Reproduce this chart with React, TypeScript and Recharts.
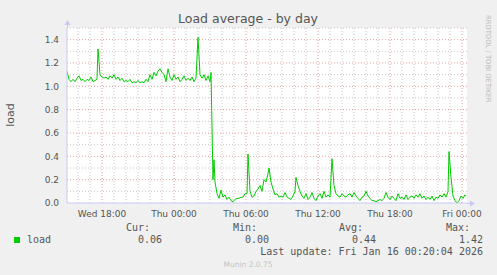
import React from 'react';
import { LineChart, Line, XAxis, YAxis, CartesianGrid, ReferenceLine } from 'recharts';

// minutes since Wed 00:00
const times = [
  905, 915, 925, 935, 945, 955, 965, 975, 985, 995, 1005, 1015, 1025, 1035, 1045, 1055, 1060, 1070,
  1080, 1090, 1100, 1110, 1120, 1130, 1140, 1150, 1160, 1170, 1180, 1190, 1200, 1210, 1220, 1230,
  1240, 1250, 1260, 1270, 1280, 1290, 1300, 1310, 1320, 1330, 1340, 1350, 1360, 1370, 1380, 1390,
  1400, 1410, 1420, 1430, 1440, 1450, 1460, 1470, 1480, 1490, 1500, 1510, 1520, 1530, 1540, 1550,
  1560, 1570, 1580, 1590, 1600, 1610, 1620, 1625, 1635, 1640, 1645, 1655, 1665, 1675, 1685, 1695,
  1705, 1715, 1725, 1735, 1745, 1755, 1765, 1775, 1785, 1795, 1805, 1810, 1820, 1830, 1840, 1850,
  1860, 1870, 1880, 1890, 1900, 1910, 1915, 1925, 1935, 1945, 1955, 1965, 1975, 1985, 1995, 2005,
  2015, 2025, 2035, 2045, 2050, 2060, 2070, 2080, 2090, 2100, 2110, 2120, 2130, 2140, 2150, 2160,
  2170, 2180, 2190, 2200, 2210, 2220, 2230, 2240, 2250, 2260, 2270, 2280, 2290, 2300, 2310, 2320,
  2330, 2340, 2350, 2360, 2370, 2380, 2390, 2400, 2410, 2420, 2430, 2440, 2450, 2460, 2470, 2480,
  2490, 2500, 2510, 2520, 2530, 2540, 2550, 2560, 2570, 2580, 2590, 2600, 2610, 2620, 2630, 2640,
  2650, 2660, 2670, 2680, 2690, 2700, 2710, 2720, 2730, 2740, 2750, 2760, 2770, 2780, 2790, 2800,
  2810, 2815, 2825, 2835, 2845, 2855, 2865, 2875, 2885, 2895, 2900,
];

const loads = [
  1.13, 1.06, 1.04, 1.06, 1.04, 1.07, 1.09, 1.05, 1.06, 1.04, 1.06, 1.05, 1.08, 1.04, 1.05, 1.06, 1.32, 1.10,
  1.08, 1.07, 1.08, 1.06, 1.09, 1.07, 1.10, 1.06, 1.08, 1.05, 1.07, 1.04, 1.05, 1.04, 1.06, 1.03,
  1.04, 1.03, 1.05, 1.03, 1.04, 1.03, 1.06, 1.04, 1.10, 1.06, 1.12, 1.09, 1.13, 1.15, 1.12, 1.10,
  1.04, 1.15, 1.08, 1.05, 1.10, 1.06, 1.08, 1.04, 1.06, 1.09, 1.05, 1.07, 1.05, 1.08, 1.04, 1.07,
  1.42, 1.10, 1.07, 1.10, 1.05, 1.09, 1.04, 1.12, 0.20, 0.37, 0.18, 0.08, 0.04, 0.11, 0.05, 0.07,
  0.03, 0.05, 0.02, 0.01, 0.03, 0.04, 0.04, 0.05, 0.05, 0.08, 0.08, 0.42, 0.10, 0.05, 0.06, 0.10,
  0.12, 0.15, 0.10, 0.20, 0.18, 0.25, 0.30, 0.18, 0.12, 0.07, 0.08, 0.05, 0.06, 0.05, 0.09, 0.05,
  0.04, 0.03, 0.06, 0.10, 0.22, 0.15, 0.10, 0.06, 0.04, 0.08, 0.03, 0.05, 0.09, 0.04, 0.02, 0.06,
  0.08, 0.04, 0.10, 0.05, 0.07, 0.05, 0.38, 0.15, 0.08, 0.06, 0.05, 0.08, 0.06, 0.05, 0.07, 0.08,
  0.05, 0.09, 0.06, 0.04, 0.02, 0.05, 0.06, 0.10, 0.06, 0.04, 0.02, 0.02, 0.01, 0.02, 0.03, 0.02,
  0.04, 0.09, 0.05, 0.03, 0.06, 0.04, 0.02, 0.08, 0.04, 0.05, 0.03, 0.07, 0.03, 0.05, 0.06, 0.04,
  0.07, 0.05, 0.08, 0.04, 0.06, 0.03, 0.05, 0.03, 0.06, 0.02, 0.05, 0.04, 0.07, 0.05, 0.08, 0.05,
  0.10, 0.44, 0.22, 0.06, 0.02, 0.00, 0.02, 0.06, 0.04, 0.07, 0.06,
];

const xDomain = [905, 2905];
const xTicks = [1080, 1440, 1800, 2160, 2520, 2880];
const xTickLabels = ['Wed 18:00', 'Thu 00:00', 'Thu 06:00', 'Thu 12:00', 'Thu 18:00', 'Fri 00:00'];
const xMinor = [960, 1020, 1140, 1200, 1260, 1320, 1380, 1500, 1560, 1620, 1680, 1740, 1860, 1920, 1980, 2040, 2100, 2220, 2280, 2340, 2400, 2460, 2580, 2640, 2700, 2760, 2820];
const yTicks = [0, 0.2, 0.4, 0.6, 0.8, 1.0, 1.2, 1.4];
const yMinor = [0.1, 0.3, 0.5, 0.7, 0.9, 1.1, 1.3, 1.5];

const legendHeaders = ['Cur:', 'Min:', 'Avg:', 'Max:'];
const legendValues = ['0.06', '0.00', '0.44', '1.42'];
const seriesName = 'load';
const title = 'Load average - by day';
const lastUpdate = 'Last update: Fri Jan 16 00:20:04 2026';

const data = times.map((t, i) => ({ t, load: loads[i] }));

const MAJOR = '#e8a0a0';
const MINOR = '#c8c8c8';
const AXIS = '#c8c8f4';
const TEXT = '#555';
const SANS = 'DejaVu Sans, sans-serif';
const MONO = 'DejaVu Sans Mono, monospace';

export default function App() {
  const colRight = [150, 257, 363, 470];
  const valRight = [162, 269, 376, 483];
  return (
    <div style={{ position: 'absolute', left: 0, top: 0, width: 497, height: 275, background: '#f0f0f0', overflow: 'hidden' }}>
      <LineChart width={497} height={275} data={data} margin={{ top: 28, right: 30, left: 0, bottom: 52 }}>
        <CartesianGrid fill="#ffffff" horizontal={false} vertical={false} />
        {xMinor.map((v) => (
          <ReferenceLine key={'xm' + v} x={v} stroke={MINOR} strokeDasharray="1 2" />
        ))}
        {yMinor.map((v) => (
          <ReferenceLine key={'ym' + v} y={v} stroke={MINOR} strokeDasharray="1 2" />
        ))}
        {xTicks.map((v) => (
          <ReferenceLine key={'xM' + v} x={v} stroke={MAJOR} strokeDasharray="1 2" />
        ))}
        {yTicks.filter((v) => v > 0).map((v) => (
          <ReferenceLine key={'yM' + v} y={v} stroke={MAJOR} strokeDasharray="1 2" />
        ))}
        <XAxis
          dataKey="t"
          type="number"
          domain={xDomain}
          ticks={xTicks}
          tickFormatter={(v: number) => xTickLabels[xTicks.indexOf(v)] ?? ''}
          height={20}
          tickLine={false}
          axisLine={{ stroke: AXIS }}
          tick={{ fill: TEXT, fontSize: 9, fontFamily: SANS }}
          interval={0}
          allowDataOverflow
        />
        <YAxis
          type="number"
          domain={[0, 1.5]}
          ticks={yTicks}
          tickFormatter={(v: number) => v.toFixed(1)}
          width={67}
          tickLine={false}
          axisLine={{ stroke: AXIS }}
          tick={{ fill: TEXT, fontSize: 9, fontFamily: SANS }}
          interval={0}
          allowDataOverflow
        />
        <Line
          type="linear"
          dataKey="load"
          stroke="#00cc00"
          strokeWidth={1}
          dot={false}
          isAnimationActive={false}
        />
      </LineChart>
      <svg width={497} height={275} style={{ position: 'absolute', left: 0, top: 0, pointerEvents: 'none' }}>
        <line x1={67.5} y1={28} x2={67.5} y2={23} stroke={AXIS} />
        <polygon points="64.5,25 70.5,25 67.5,20" fill={AXIS} />
        <line x1={467} y1={203.5} x2={472} y2={203.5} stroke={AXIS} />
        <polygon points="470,200.5 470,206.5 475,203.5" fill={AXIS} />
        <text x={248} y={23} textAnchor="middle" fontFamily={SANS} fontSize={12.5} fill={TEXT}>{title}</text>
        <text x={0} y={0} transform="translate(14,115) rotate(-90)" textAnchor="middle" fontFamily={SANS} fontSize={11} fill={TEXT}>load</text>
        <text x={0} y={0} transform="translate(486,15) rotate(90)" textAnchor="start" fontFamily={SANS} fontSize={6.8} fill="#b8b8b8">RRDTOOL / TOBI OETIKER</text>
        {legendHeaders.map((h, i) => (
          <text key={h} x={colRight[i]} y={231} textAnchor="end" fontFamily={MONO} fontSize={10} fill={TEXT}>{h}</text>
        ))}
        <rect x={14} y={237} width={6} height={6} fill="#00cc00" />
        <text x={27} y={243} fontFamily={MONO} fontSize={10} fill={TEXT}>{seriesName}</text>
        {legendValues.map((v, i) => (
          <text key={i} x={valRight[i]} y={243} textAnchor="end" fontFamily={MONO} fontSize={10} fill={TEXT}>{v}</text>
        ))}
        <text x={483} y={255} textAnchor="end" fontFamily={MONO} fontSize={10} fill={TEXT}>{lastUpdate}</text>
        <text x={248} y={267} textAnchor="middle" fontFamily={SANS} fontSize={7.5} fill="#c4c4c4">Munin 2.0.75</text>
      </svg>
    </div>
  );
}
